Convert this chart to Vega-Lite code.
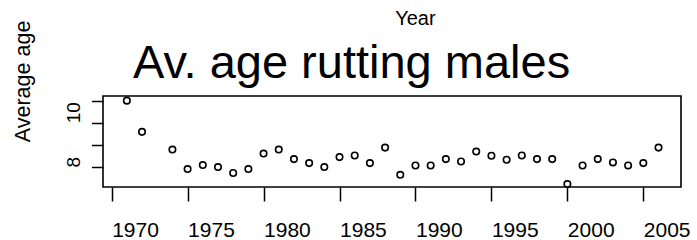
{
  "$schema": "https://vega.github.io/schema/vega-lite/v6.json",
  "width": 578,
  "height": 91,
  "autosize": "none",
  "padding": {"left": 103, "top": 96, "right": 16, "bottom": 53},
  "background": "white",
  "config": {
    "view": {"stroke": "black", "strokeWidth": 1.6},
    "font": "Liberation Sans",
    "axis": {"domain": false, "grid": false, "tickColor": "black", "tickWidth": 1.5, "labelColor": "black", "titleColor": "black", "titleFontWeight": "normal", "labelFont": "Liberation Sans", "titleFont": "Liberation Sans"}
  },
  "title": {
    "text": "Av. age rutting males",
    "font": "Liberation Sans",
    "fontSize": 47,
    "fontWeight": "normal",
    "color": "black",
    "anchor": "start",
    "frame": "group",
    "dx": 30,
    "dy": 83
  },
  "data": {
    "values": [
      {"year": 1971, "age": 11.00},
      {"year": 1972, "age": 9.59},
      {"year": 1974, "age": 8.79},
      {"year": 1975, "age": 7.91},
      {"year": 1976, "age": 8.09},
      {"year": 1977, "age": 8.00},
      {"year": 1978, "age": 7.73},
      {"year": 1979, "age": 7.91},
      {"year": 1980, "age": 8.61},
      {"year": 1981, "age": 8.79},
      {"year": 1982, "age": 8.36},
      {"year": 1983, "age": 8.18},
      {"year": 1984, "age": 8.00},
      {"year": 1985, "age": 8.45},
      {"year": 1986, "age": 8.52},
      {"year": 1987, "age": 8.18},
      {"year": 1988, "age": 8.88},
      {"year": 1989, "age": 7.65},
      {"year": 1990, "age": 8.07},
      {"year": 1991, "age": 8.07},
      {"year": 1992, "age": 8.36},
      {"year": 1993, "age": 8.25},
      {"year": 1994, "age": 8.70},
      {"year": 1995, "age": 8.51},
      {"year": 1996, "age": 8.33},
      {"year": 1997, "age": 8.52},
      {"year": 1998, "age": 8.36},
      {"year": 1999, "age": 8.36},
      {"year": 2000, "age": 7.23},
      {"year": 2001, "age": 8.07},
      {"year": 2002, "age": 8.36},
      {"year": 2003, "age": 8.21},
      {"year": 2004, "age": 8.07},
      {"year": 2005, "age": 8.18},
      {"year": 2006, "age": 8.88}
    ]
  },
  "mark": {"type": "point", "shape": "circle", "filled": false, "stroke": "black", "strokeWidth": 1.6, "size": 42, "opacity": 1},
  "encoding": {
    "x": {
      "field": "year",
      "type": "quantitative",
      "scale": {"domain": [1969.43, 2007.48], "nice": false, "zero": false},
      "axis": {
        "title": "Year",
        "values": [1970, 1975, 1980, 1985, 1990, 1995, 2000, 2005],
        "format": "d",
        "tickSize": 14,
        "labelFontSize": 21,
        "labelAlign": "left",
        "labelBaseline": "alphabetic",
        "labelPadding": 35,
        "labelOffset": 0,
        "labelFlush": false,
        "labelOverlap": false,
        "titleFontSize": 20,
        "titleAlign": "left",
        "titleBaseline": "alphabetic",
        "titleAngle": 0,
        "titleX": 291.7,
        "titleY": -162.3
      }
    },
    "y": {
      "field": "age",
      "type": "quantitative",
      "scale": {"domain": [7.1, 11.21], "nice": false, "zero": false},
      "axis": {
        "title": "Average age",
        "values": [8, 9, 10, 11],
        "labelExpr": "datum.value == 10 || datum.value == 8 ? datum.label : ''",
        "tickSize": 11.6,
        "labelFontSize": 19,
        "labelAngle": -90,
        "labelAlign": "left",
        "labelBaseline": "alphabetic",
        "labelPadding": 12.4,
        "labelFlush": false,
        "labelOverlap": false,
        "titleFontSize": 21.5,
        "titleAngle": -90,
        "titleAlign": "left",
        "titleBaseline": "alphabetic",
        "titleX": -73.5,
        "titleY": 45.7
      }
    }
  }
}
